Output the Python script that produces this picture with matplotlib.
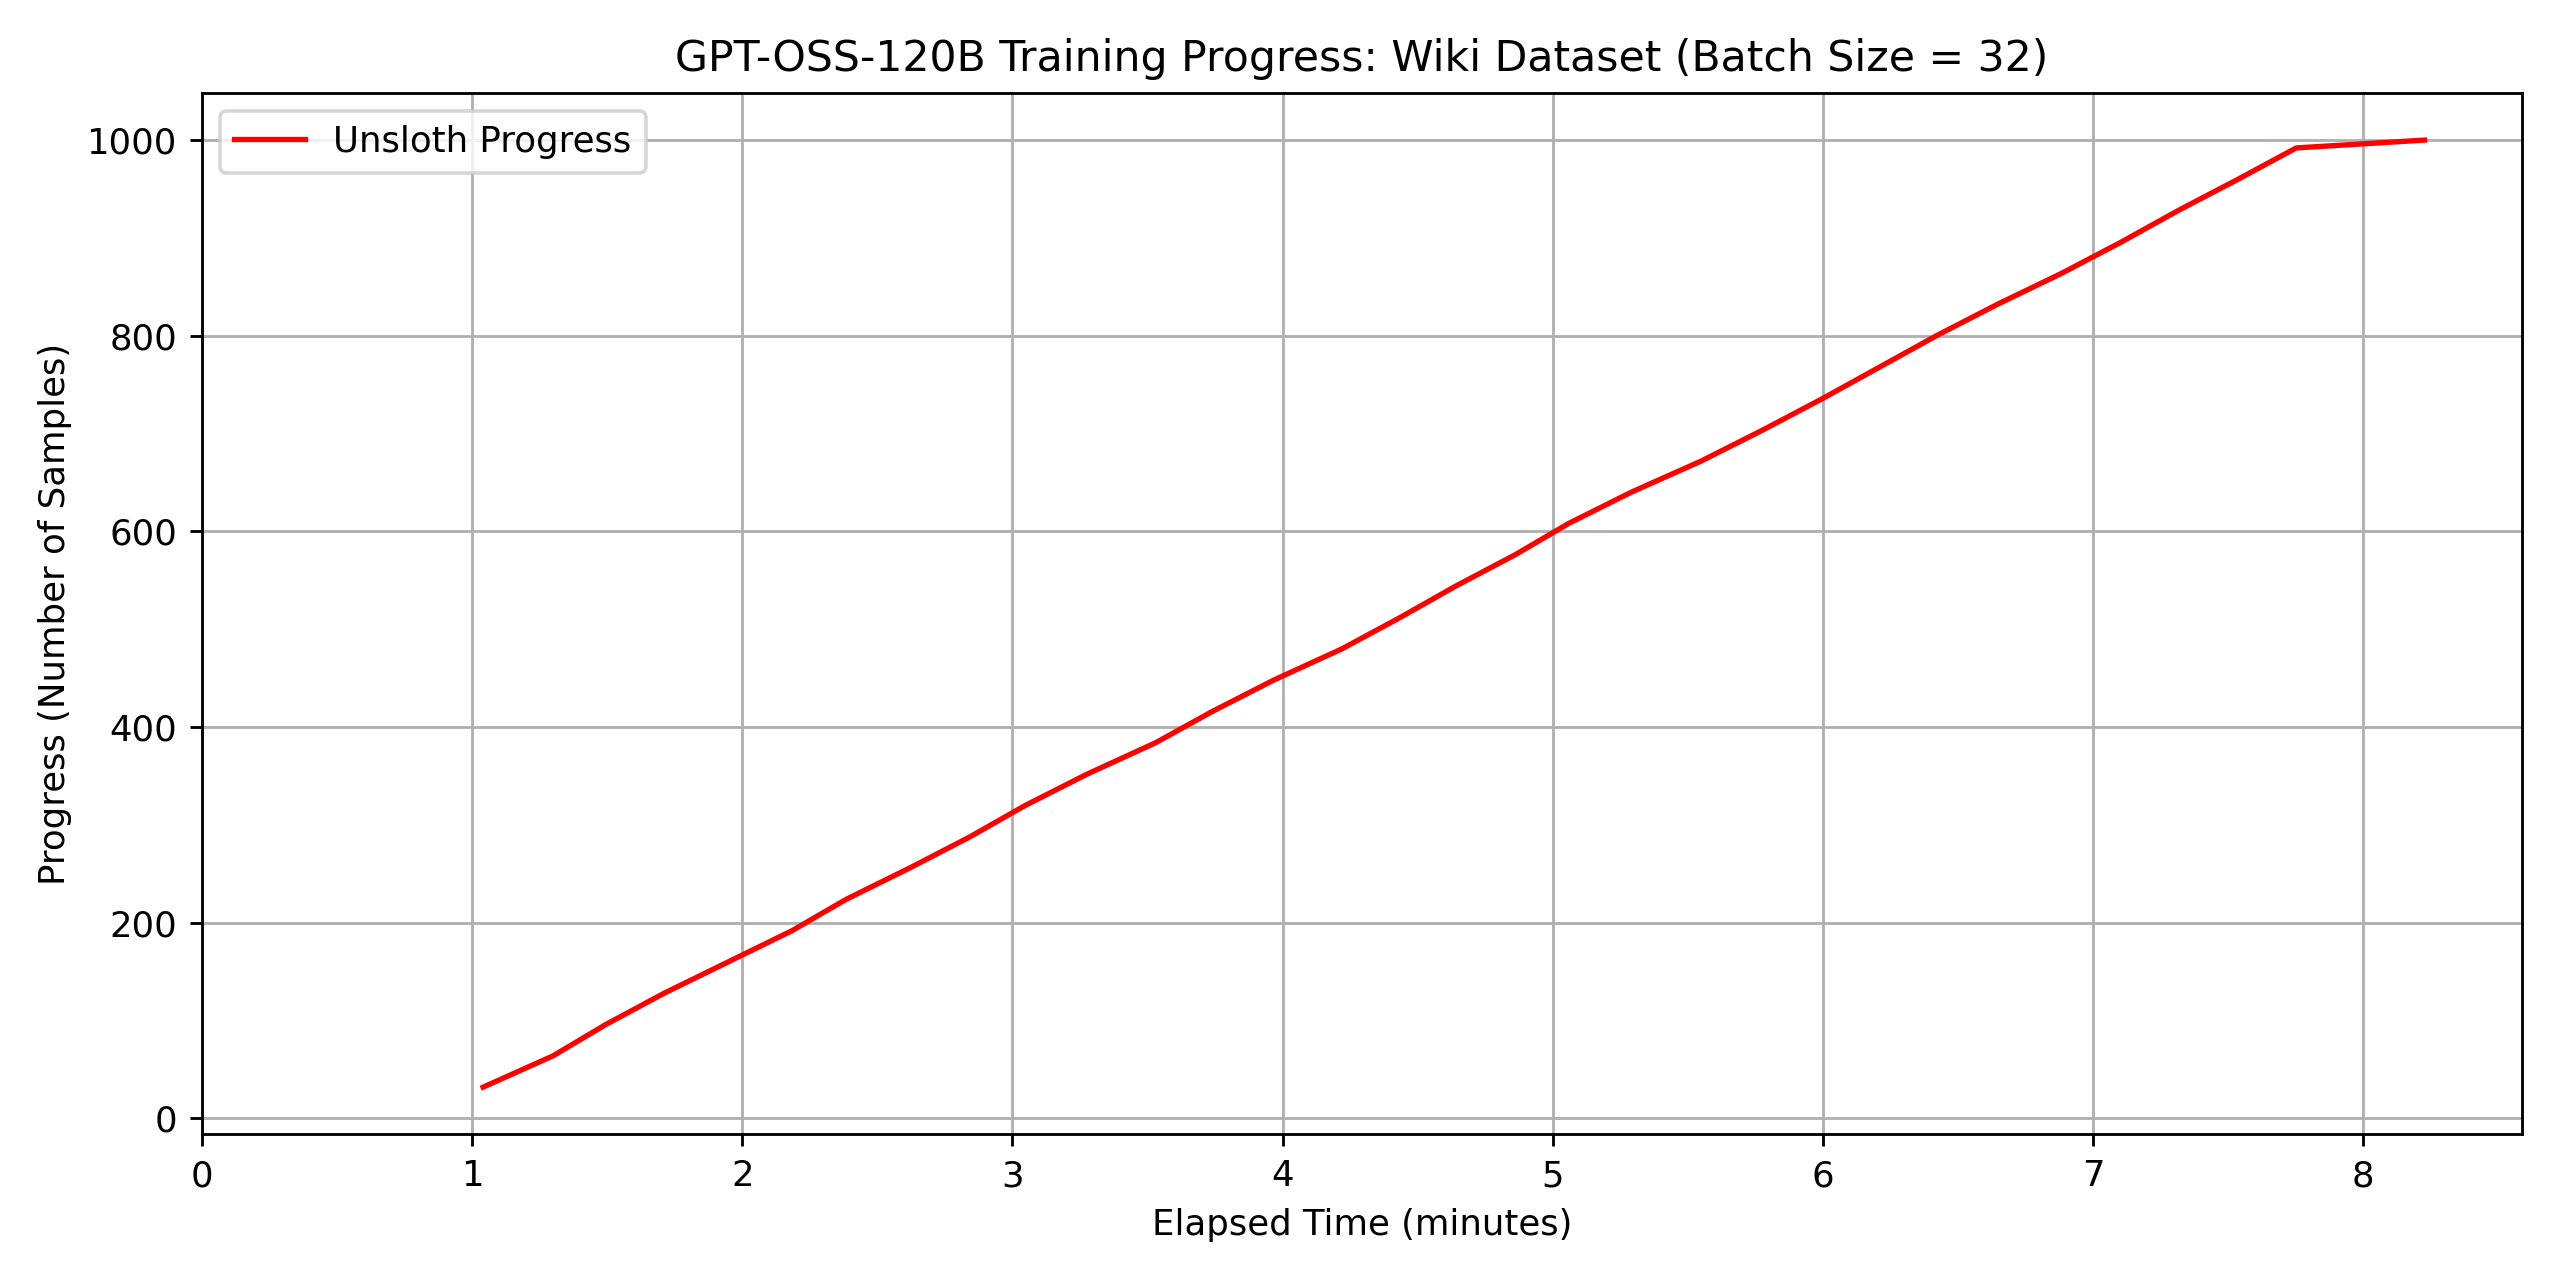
import matplotlib
matplotlib.use("Agg")
import matplotlib.pyplot as plt

# Progress samples (batch size 32) and elapsed minutes
samples = [32, 64, 96, 128, 160, 192, 224, 256, 288, 320, 352, 384, 416, 448,
           480, 512, 544, 576, 608, 640, 672, 704, 736, 768, 800, 832, 864,
           896, 928, 960, 992, 1000]
minutes = [1.041, 1.300, 1.495, 1.711, 1.948, 2.185, 2.385, 2.620, 2.844,
           3.048, 3.277, 3.530, 3.740, 3.967, 4.220, 4.435, 4.640, 4.860,
           5.058, 5.290, 5.550, 5.780, 6.000, 6.210, 6.420, 6.645, 6.885,
           7.106, 7.315, 7.537, 7.752, 8.227]

fig, ax = plt.subplots(figsize=(10, 5), dpi=256)
ax.plot(minutes, samples, color="red", linewidth=1.5, label="Unsloth Progress")
ax.set_xlim(left=0)
ax.set_title("GPT-OSS-120B Training Progress: Wiki Dataset (Batch Size = 32)")
ax.set_xlabel("Elapsed Time (minutes)")
ax.set_ylabel("Progress (Number of Samples)")
ax.grid(True)
ax.legend(loc="upper left")
fig.tight_layout()
fig.savefig("out.png", dpi=256)
